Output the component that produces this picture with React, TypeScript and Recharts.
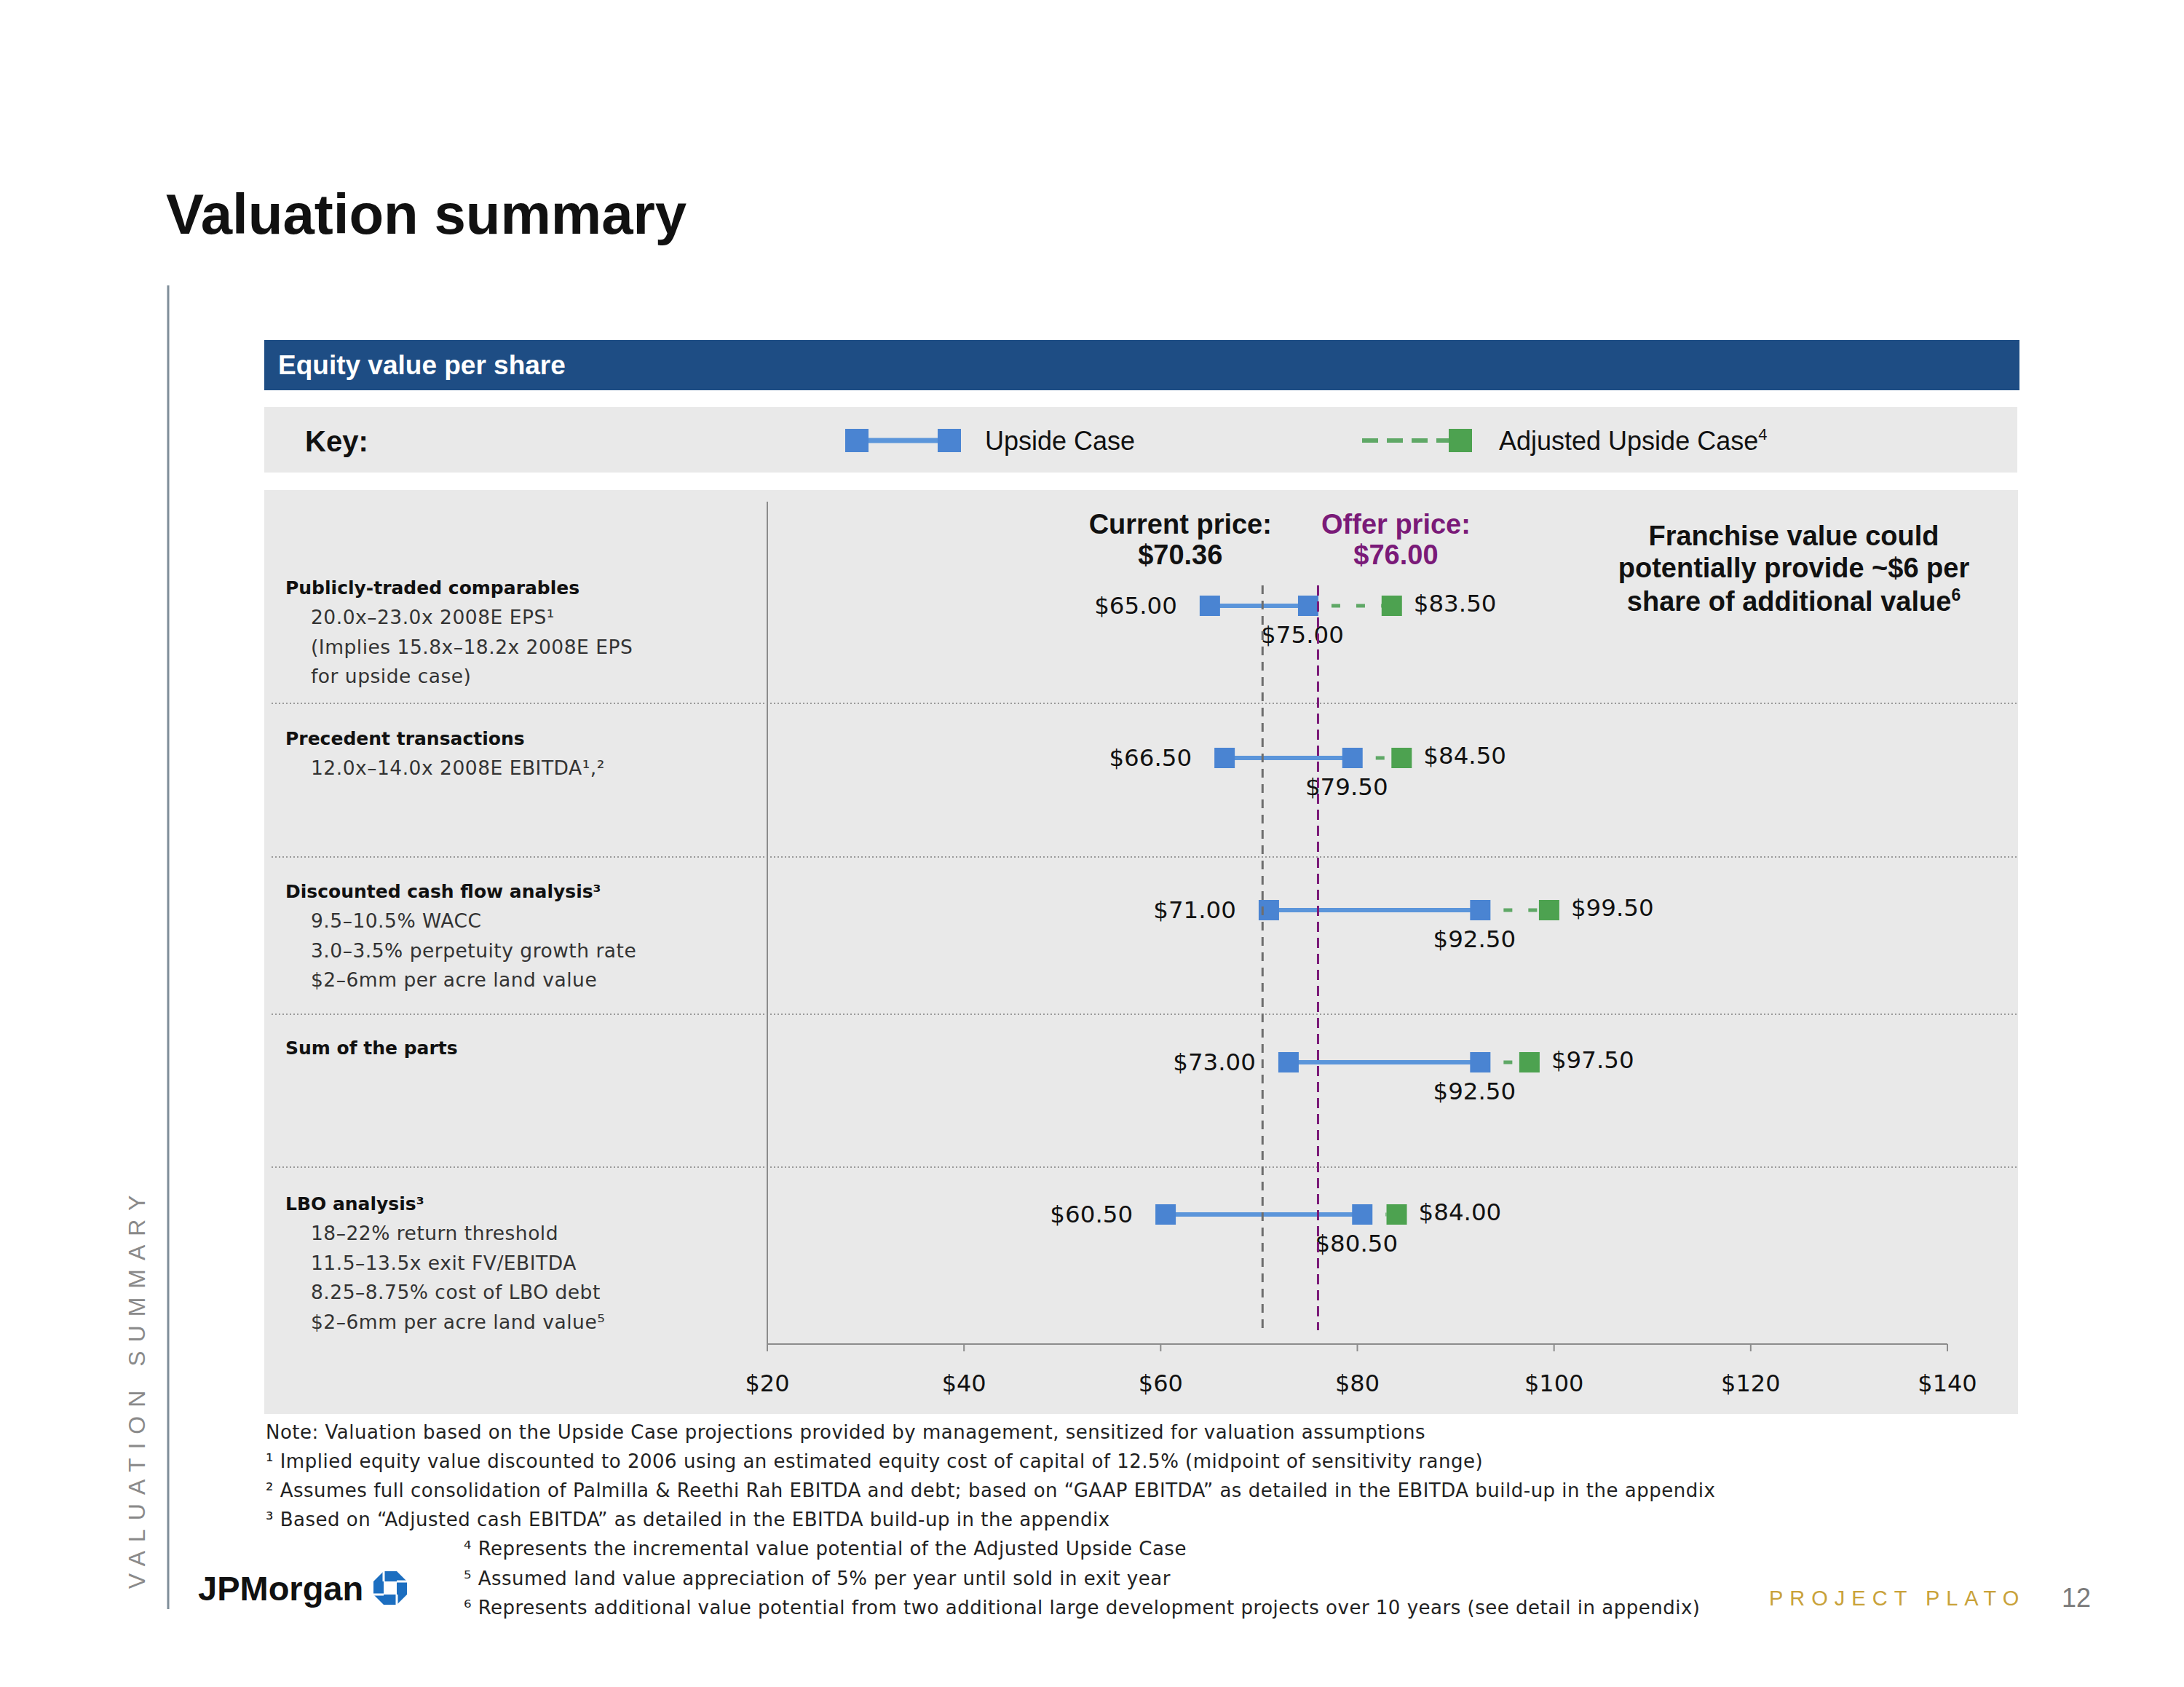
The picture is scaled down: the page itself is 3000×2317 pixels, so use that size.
import React from 'react';
import { ComposedChart, Bar, XAxis, YAxis, ReferenceLine } from 'recharts';

// ---------- data ----------
const methods = [
  'Publicly-traded comparables',
  'Precedent transactions',
  'Discounted cash flow analysis',
  'Sum of the parts',
  'LBO analysis',
];
const methodTitles = [
  'Publicly-traded comparables',
  'Precedent transactions',
  'Discounted cash flow analysis³',
  'Sum of the parts',
  'LBO analysis³',
];
const methodNotes: string[][] = [
  ['20.0x–23.0x 2008E EPS¹', '(Implies 15.8x–18.2x 2008E EPS', 'for upside case)'],
  ['12.0x–14.0x 2008E EBITDA¹,²'],
  ['9.5–10.5% WACC', '3.0–3.5% perpetuity growth rate', '$2–6mm per acre land value'],
  [],
  ['18–22% return threshold', '11.5–13.5x exit FV/EBITDA', '8.25–8.75% cost of LBO debt', '$2–6mm per acre land value⁵'],
];
const upsideLow = [65.0, 66.5, 71.0, 73.0, 60.5];
const upsideHigh = [75.0, 79.5, 92.5, 92.5, 80.5];
const adjustedHigh = [83.5, 84.5, 99.5, 97.5, 84.0];
const xTicks = [20, 40, 60, 80, 100, 120, 140];
const currentPrice = 70.36;
const offerPrice = 76.0;
const footnotes = [
  'Note: Valuation based on the Upside Case projections provided by management, sensitized for valuation assumptions',
  '¹ Implied equity value discounted to 2006 using an estimated equity cost of capital of 12.5% (midpoint of sensitivity range)',
  '² Assumes full consolidation of Palmilla & Reethi Rah EBITDA and debt; based on “GAAP EBITDA” as detailed in the EBITDA build-up in the appendix',
  '³  Based on “Adjusted cash EBITDA” as detailed in the EBITDA build-up in the appendix',
  '⁴ Represents the incremental value potential of the Adjusted Upside Case',
  '⁵ Assumed land value appreciation of 5% per year until sold in exit year',
  '⁶ Represents additional value potential from two additional large development projects over 10 years (see detail in appendix)',
];

const data = methods.map((m, i) => ({
  method: m,
  low: upsideLow[i],
  high: upsideHigh[i],
  adj: adjustedHigh[i],
}));

// ---------- style ----------
const W = 3000;
const H = 2317;
const FV = "'DejaVu Sans', Verdana, sans-serif";
const FF = "'Liberation Sans', Arial, sans-serif";
const BLUE = '#4A84D2';
const BLUE_LINE = '#5B95DA';
const GREEN = '#4DA250';
const GREEN_DASH = '#5FA866';
const PURPLE = '#7A1A78';
const GRAY_REF = '#6E6E6E';
const PANEL = '#E9E9E9';
const SQ = 28;
const REF_TOP = 804;
const REF_BOTTOM = 1827;
const LABEL_SIZE = 32.5;

const fmt = (v: number) => `$${v.toFixed(2)}`;

function UpsideShape(props: any) {
  const { x, y, width, height, payload } = props;
  if (x == null || payload == null) return null;
  const cy = y + height / 2;
  const x0 = x;
  const x1 = x + width;
  return (
    <g>
      <line x1={x0} x2={x1} y1={cy} y2={cy} stroke={BLUE_LINE} strokeWidth={6} />
      <rect x={x0 - SQ / 2} y={cy - SQ / 2} width={SQ} height={SQ} fill={BLUE} />
      <rect x={x1 - SQ / 2} y={cy - SQ / 2} width={SQ} height={SQ} fill={BLUE} />
      <text x={x0 - 45} y={cy + 11} textAnchor="end" fontFamily={FV} fontSize={LABEL_SIZE} fill="#111">
        {fmt(payload.low)}
      </text>
      <text x={x1 - 8} y={cy + 51} textAnchor="middle" fontFamily={FV} fontSize={LABEL_SIZE} fill="#111">
        {fmt(payload.high)}
      </text>
    </g>
  );
}

function AdjustedShape(props: any) {
  const { x, y, width, height, payload } = props;
  if (x == null || payload == null) return null;
  const cy = y + height / 2;
  const x0 = x;
  const x1 = x + width;
  const ds = x0 + SQ / 2 + 18;
  const de = x1 - SQ / 2;
  return (
    <g>
      {de > ds && (
        <line x1={ds} x2={de} y1={cy} y2={cy} stroke={GREEN_DASH} strokeWidth={5} strokeDasharray="12 22" />
      )}
      <rect x={x1 - SQ / 2} y={cy - SQ / 2} width={SQ} height={SQ} fill={GREEN} />
      <text x={x1 + 30} y={cy + 8} textAnchor="start" fontFamily={FV} fontSize={LABEL_SIZE} fill="#111">
        {fmt(payload.adj)}
      </text>
    </g>
  );
}

const refLineShape = (color: string, dash: string) => (p: any) => (
  <line x1={p.x1} x2={p.x2} y1={REF_TOP} y2={REF_BOTTOM} stroke={color} strokeWidth={3} strokeDasharray={dash} />
);

const refLabel = (title: string, value: number, color: string, dx: number) => (p: any) => {
  const vx = p.viewBox ? p.viewBox.x : 0;
  return (
    <g>
      <text x={vx + dx} y={733} textAnchor="middle" fontFamily={FF} fontWeight="bold" fontSize={38} fill={color}>
        {title}
      </text>
      <text x={vx + dx} y={775} textAnchor="middle" fontFamily={FF} fontWeight="bold" fontSize={38} fill={color}>
        {`$${value.toFixed(2)}`}
      </text>
    </g>
  );
};

function Decor() {
  const headY = [807, 1014, 1224, 1439, 1653];
  const sepY = [966, 1177, 1393, 1603];
  return (
    <svg width={W} height={H} style={{ position: 'absolute', left: 0, top: 0 }}>
      <rect x={0} y={0} width={W} height={H} fill="#FFFFFF" />
      {/* title */}
      <text x={228} y={321} fontFamily={FF} fontWeight="bold" fontSize={78} fill="#111">
        Valuation summary
      </text>
      {/* side rule and vertical label */}
      <line x1={231} x2={231} y1={392} y2={2210} stroke="#7F8E99" strokeWidth={3} />
      <text
        x={188}
        y={1906 + 11}
        transform="rotate(-90 188 1906)"
        textAnchor="middle"
        fontFamily={FF}
        fontSize={32}
        letterSpacing={12}
        fill="#8A8A8A"
      >
        VALUATION SUMMARY
      </text>
      {/* header bar */}
      <rect x={363} y={467} width={2411} height={69} fill="#1E4D84" />
      <text x={382} y={514} fontFamily={FF} fontWeight="bold" fontSize={37} fill="#FFFFFF">
        Equity value per share
      </text>
      {/* key box */}
      <rect x={363} y={559} width={2408} height={90} fill={PANEL} />
      <text x={419} y={620} fontFamily={FF} fontWeight="bold" fontSize={40} fill="#111">
        Key:
      </text>
      <line x1={1177} x2={1304} y1={605} y2={605} stroke={BLUE_LINE} strokeWidth={7} />
      <rect x={1161} y={589} width={32} height={32} fill={BLUE} />
      <rect x={1288} y={589} width={32} height={32} fill={BLUE} />
      <text x={1353} y={618} fontFamily={FF} fontSize={36} fill="#111">
        Upside Case
      </text>
      <line x1={1871} x2={1990} y1={605} y2={605} stroke={GREEN_DASH} strokeWidth={6} strokeDasharray="22 12" />
      <rect x={1990} y={589} width={32} height={32} fill={GREEN} />
      <text x={2059} y={618} fontFamily={FF} fontSize={36} fill="#111">
        Adjusted Upside Case
        <tspan dy={-14} fontSize={22}>4</tspan>
      </text>
      {/* chart panel */}
      <rect x={363} y={673} width={2409} height={1269} fill={PANEL} />
      {sepY.map((y, i) => (
        <line key={i} x1={373} x2={2770} y1={y} y2={y} stroke="#9A9A9A" strokeWidth={2} strokeDasharray="2 3" />
      ))}
      {methodTitles.map((t, i) => (
        <g key={i}>
          <text x={392} y={headY[i] + 9} fontFamily={FV} fontWeight="bold" fontSize={25} fill="#111">
            {t}
          </text>
          {methodNotes[i].map((n, j) => (
            <text
              key={j}
              x={427}
              y={headY[i] + 9 + 40.8 * (j + 1)}
              fontFamily={FV}
              fontSize={26.5}
              letterSpacing={0.5}
              fill="#333"
            >
              {n}
            </text>
          ))}
        </g>
      ))}
      {/* franchise note */}
      {['Franchise value could', 'potentially provide ~$6 per'].map((s, i) => (
        <text key={i} x={2464} y={[749, 793][i]} textAnchor="middle" fontFamily={FF} fontWeight="bold" fontSize={38} fill="#111">
          {s}
        </text>
      ))}
      <text x={2464} y={839} textAnchor="middle" fontFamily={FF} fontWeight="bold" fontSize={38} fill="#111">
        share of additional value
        <tspan dy={-14} fontSize={23}>6</tspan>
      </text>
      {/* footnotes */}
      {footnotes.map((f, i) => (
        <text
          key={i}
          x={i < 4 ? 365 : 637}
          y={[1967, 2007, 2047, 2087, 2127, 2168, 2208][i] + 9}
          fontFamily={FV}
          fontSize={26}
          letterSpacing={0.5}
          fill="#222"
        >
          {f}
        </text>
      ))}
      {/* logo */}
      <text x={272} y={2198} fontFamily={FF} fontWeight="bold" fontSize={47} fill="#111">
        JPMorgan
      </text>
      <g transform="translate(536 2181)">
        <polygon points="-9,-23 9,-23 23,-9 23,9 9,23 -9,23 -23,9 -23,-9" fill="#1C6EC0" />
        <rect x={-9} y={-9} width={18} height={18} fill="#FFFFFF" />
        <line x1={-9} y1={-9} x2={-9} y2={-24} stroke="#FFFFFF" strokeWidth={3} />
        <line x1={9} y1={-9} x2={24} y2={-9} stroke="#FFFFFF" strokeWidth={3} />
        <line x1={9} y1={9} x2={9} y2={24} stroke="#FFFFFF" strokeWidth={3} />
        <line x1={-9} y1={9} x2={-24} y2={9} stroke="#FFFFFF" strokeWidth={3} />
      </g>
      <text x={2430} y={2205} fontFamily={FF} fontSize={29} letterSpacing={9} fill="#C9A23A">
        PROJECT PLATO
      </text>
      <text x={2832} y={2207} fontFamily={FF} fontSize={36} fill="#7A7A7A">
        12
      </text>
    </svg>
  );
}

export default function App() {
  return (
    <div style={{ position: 'absolute', left: 0, top: 0, width: W, height: H, background: '#fff', overflow: 'hidden' }}>
      <Decor />
      <div style={{ position: 'absolute', left: 0, top: 0 }}>
        <ComposedChart
          width={W}
          height={H}
          layout="vertical"
          data={data}
          margin={{ top: 689, right: 325, bottom: 411, left: 1044 }}
          barGap={-40}
        >
          <XAxis
            type="number"
            domain={[20, 140]}
            ticks={xTicks}
            interval={0}
            allowDataOverflow
            tickFormatter={(v: number) => `$${v}`}
            height={60}
            axisLine={{ stroke: '#8C8C8C', strokeWidth: 2 }}
            tickLine={{ stroke: '#8C8C8C', strokeWidth: 2 }}
            tickSize={10}
            tickMargin={32}
            tick={{ fontFamily: FV, fontSize: 32, fill: '#111' }}
          />
          <YAxis
            type="category"
            dataKey="method"
            width={10}
            tick={false}
            tickLine={false}
            axisLine={{ stroke: '#8C8C8C', strokeWidth: 2 }}
            padding={{ top: 38, bottom: 74 }}
          />
          <Bar dataKey={(d: any) => [d.low, d.high]} barSize={40} shape={UpsideShape} isAnimationActive={false} />
          <Bar dataKey={(d: any) => [d.high, d.adj]} barSize={40} shape={AdjustedShape} isAnimationActive={false} />
          <ReferenceLine
            x={currentPrice}
            shape={refLineShape(GRAY_REF, '12 9')}
            label={{ content: refLabel('Current price:', currentPrice, '#111', -113) }}
          />
          <ReferenceLine
            x={offerPrice}
            shape={refLineShape(PURPLE, '14 8')}
            label={{ content: refLabel('Offer price:', offerPrice, PURPLE, 107) }}
          />
        </ComposedChart>
      </div>
    </div>
  );
}
